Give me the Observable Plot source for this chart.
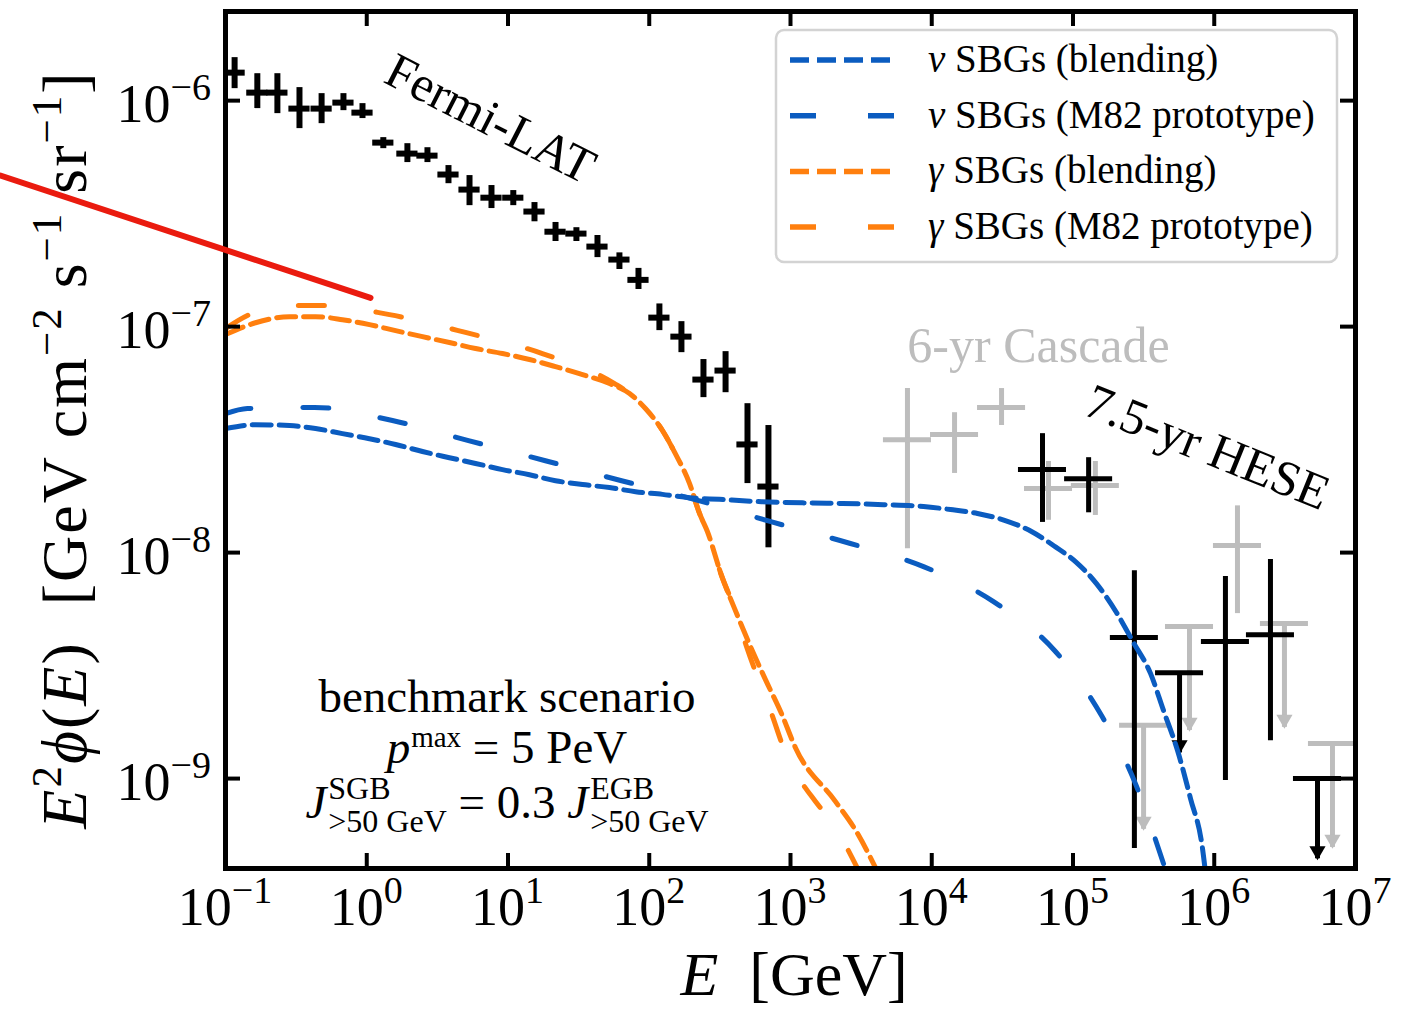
<!DOCTYPE html>
<html>
<head>
<meta charset="utf-8">
<script src="https://cdn.jsdelivr.net/npm/d3@7"></script>
<script src="https://cdn.jsdelivr.net/npm/@observablehq/plot@0.6"></script>
<style>
html,body{margin:0;padding:0;background:#fff;}
#chart svg{display:block;}
</style>
</head>
<body>
<div id="chart"></div>
<script>
// ---------------- data ----------------
const xTickExponents = [-1, 0, 1, 2, 3, 4, 5, 6, 7];
const yTickExponents = [-9, -8, -7, -6];

// Fermi-LAT EGB (black crosses)
const fermiE  = [0.116,0.168,0.233,0.334,0.479,0.684,0.933,1.31,1.94,2.69,3.79,5.34,7.64,10.9,15.4,21.7,30.5,43.0,61.5,83.9,118,169,242,347,496,698];
const fermiY  = [1.33e-6,1.085e-6,1.085e-6,9.22e-7,9.22e-7,9.80e-7,8.85e-7,6.52e-7,5.83e-7,5.71e-7,4.71e-7,4.04e-7,3.72e-7,3.72e-7,3.23e-7,2.63e-7,2.58e-7,2.26e-7,1.98e-7,1.61e-7,1.096e-7,9.03e-8,5.83e-8,6.39e-8,3.01e-8,1.96e-8];
const fermiHi = [1.55e-6,1.316e-6,1.316e-6,1.142e-6,1.074e-6,1.074e-6,9.70e-7,6.86e-7,6.45e-7,6.19e-7,5.16e-7,4.66e-7,4.21e-7,4.00e-7,3.54e-7,2.89e-7,2.74e-7,2.53e-7,2.12e-7,1.81e-7,1.26e-7,1.052e-7,7.15e-8,7.75e-8,4.56e-8,3.65e-8];
const fermiLo = [1.13e-6,9.22e-7,8.76e-7,7.52e-7,7.91e-7,9.03e-7,8.33e-7,6.13e-7,5.32e-7,5.32e-7,4.29e-7,3.43e-7,3.33e-7,3.43e-7,2.91e-7,2.38e-7,2.38e-7,2.02e-7,1.79e-7,1.46e-7,9.60e-8,7.67e-8,4.85e-8,5.10e-8,2.02e-8,1.05e-8];
const fermiHalfBinDex = 0.075;

// IceCube 6-yr cascade (grey)
const cascE  = [6730,14500,31200,67100,144000,1.46e6];
const cascY  = [3.16e-8,3.33e-8,4.39e-8,1.92e-8,1.98e-8,1.074e-8];
const cascHi = [5.32e-8,4.16e-8,5.32e-8,2.53e-8,2.53e-8,1.61e-8];
const cascLo = [1.04e-8,2.24e-8,3.65e-8,1.39e-8,1.46e-8,5.37e-9];
const cascUlE = [3.16e5,6.68e5,3.14e6,6.87e6];
const cascUlY = [1.72e-9,4.71e-9,4.86e-9,1.43e-9];

// IceCube 7.5-yr HESE (black)
const heseE  = [60800,129000,272000,1.20e6,2.50e6];
const heseY  = [2.33e-8,2.12e-8,4.21e-9,4.04e-9,4.33e-9];
const heseHi = [3.36e-8,2.63e-8,8.32e-9,7.83e-9,9.31e-9];
const heseLo = [1.36e-8,1.50e-8,4.90e-10,9.80e-10,1.47e-9];
const heseUlE = [5.68e5,5.38e6];
const heseUlY = [2.94e-9,1.00e-9];
const iceHalfBinDex = 0.17;

// model curves
const nuBlendE = [0.1,0.163,0.284,0.434,0.673,1.046,1.60,2.48,3.85,5.89,9.14,14.2,21.7,33.7,52.3,80.0,124,193,314,624,1217,2334,4552,8743,13580,21080,32750,50820,75140,104100,146600,203100,268000,353800,437400,549600,679200,826000,867000];
const nuBlendY = [3.54e-8,3.68e-8,3.65e-8,3.54e-8,3.36e-8,3.19e-8,3.01e-8,2.80e-8,2.63e-8,2.48e-8,2.33e-8,2.21e-8,2.08e-8,2.00e-8,1.94e-8,1.86e-8,1.81e-8,1.75e-8,1.72e-8,1.68e-8,1.66e-8,1.65e-8,1.63e-8,1.60e-8,1.55e-8,1.49e-8,1.39e-8,1.24e-8,1.06e-8,9.13e-9,7.29e-9,5.43e-9,4.00e-9,2.92e-9,2.00e-9,1.33e-9,8.16e-10,4.90e-10,3.84e-10];

const nuM82E = [0.1,0.143,0.427,1.52,5.25,18.4,63.7,231,759,2618,8743,27370,75140,159200,281800,430500,459000];
const nuM82Y = [4.12e-8,4.34e-8,4.39e-8,3.84e-8,3.13e-8,2.55e-8,2.08e-8,1.69e-8,1.36e-8,1.10e-8,8.67e-9,6.07e-9,3.65e-9,1.90e-9,9.23e-10,4.33e-10,3.84e-10];

const gamBlendE = [0.1,0.163,0.284,0.434,0.673,1.046,1.60,2.48,3.85,5.89,9.14,14.2,21.7,33.7,52.3,72.5,94.0,124,153,193,227,258,325,402,521,665,863,1084,2084,2932,4064];
const gamBlendY = [9.23e-8,1.04e-7,1.107e-7,1.107e-7,1.073e-7,1.020e-7,9.60e-8,9.03e-8,8.50e-8,8.00e-8,7.60e-8,7.15e-8,6.65e-8,6.13e-8,5.60e-8,5.06e-8,4.34e-8,3.47e-8,2.74e-8,2.02e-8,1.49e-8,1.24e-8,7.91e-9,5.65e-9,3.84e-9,2.74e-9,1.94e-9,1.37e-9,7.91e-10,5.82e-10,3.95e-10];

const gamM82E = [0.1,0.143,0.288,0.502,1.45,5.08,17.5,56.8,72.5,94.0,124,153,193,227,258,325,402,488,593,734,892,1503,1888,3083];
const gamM82Y = [9.80e-8,1.12e-7,1.24e-7,1.24e-7,1.13e-7,9.40e-8,7.60e-8,5.60e-8,5.06e-8,4.34e-8,3.47e-8,2.74e-8,2.02e-8,1.49e-8,1.24e-8,7.91e-9,5.65e-9,3.84e-9,2.74e-9,1.94e-9,1.37e-9,7.91e-10,6.65e-10,3.84e-10];

// red hand-drawn stroke
const redE = [0.00255, 1.063];
const redY = [4.66e-7, 1.34e-7];

const legendLabels = [
  ["ν", " SBGs (blending)"],
  ["ν", " SBGs (M82 prototype)"],
  ["γ", " SBGs (blending)"],
  ["γ", " SBGs (M82 prototype)"]
];

// ---------------- chart ----------------
const W = 1405, H = 1009;
const M = {top: 11, right: 50, bottom: 141, left: 225};
const frameW = W - M.left - M.right, frameH = H - M.top - M.bottom;
const SERIF = "'Liberation Serif', 'DejaVu Serif', serif";
const BLUE = "#0b5cc0", ORANGE = "#ff7f0e", GREY = "#bdbdbd", RED = "#ea1b0f";
const SHORT = "19,8", LONG = "26,52";
const TICK = 15;
const arrowGrey = 10 ** 0.46, arrowBlack = 10 ** 0.355;

const pts = (E, Y, lo, hi) => E.map((e, i) => ({E: e, v: Y[i], lo: lo ? lo[i] : null, hi: hi ? hi[i] : null}));
const fermi = pts(fermiE, fermiY, fermiLo, fermiHi);
const casc = pts(cascE, cascY, cascLo, cascHi);
const cascUL = pts(cascUlE, cascUlY);
const hese = pts(heseE, heseY, heseLo, heseHi);
const heseUL = pts(heseUlE, heseUlY);
const bF = 10 ** fermiHalfBinDex, bI = 10 ** iceHalfBinDex;

const xTicks = xTickExponents.map(e => 10 ** e);
const yTicks = yTickExponents.map(e => 10 ** e);

const curve = (E, Y, stroke, dash) => Plot.line(pts(E, Y), {x: "E", y: "v", stroke, strokeWidth: 5, strokeDasharray: dash, curve: "monotone-x", clip: true});

const errorMarks = (data, ul, color, sw, arrowF) => [
  Plot.ruleX(data, {x: "E", y1: "lo", y2: "hi", stroke: color, strokeWidth: sw, clip: true}),
  Plot.ruleY(data, {y: "v", x1: d => d.E / bI, x2: d => d.E * bI, stroke: color, strokeWidth: sw, clip: true}),
  Plot.ruleY(ul, {y: "v", x1: d => d.E / bI, x2: d => d.E * bI, stroke: color, strokeWidth: sw, clip: true}),
  Plot.ruleX(ul, {x: "E", y1: "v", y2: d => d.v / arrowF, stroke: color, strokeWidth: sw, clip: true}),
  Plot.dot(ul, {x: "E", y: d => d.v / arrowF, symbol: "triangle", rotate: 180, r: 6, dy: -8, fill: color, stroke: null})
];

const plot = Plot.plot({
  width: W, height: H,
  marginTop: M.top, marginRight: M.right, marginBottom: M.bottom, marginLeft: M.left,
  x: {type: "log", domain: [1e-1, 1e7], axis: null},
  y: {type: "log", domain: [4.0e-10, 2.48e-6], axis: null},
  style: {fontFamily: SERIF, background: "white", overflow: "visible"},
  marks: [
    // grey cascade
    ...errorMarks(casc, cascUL, GREY, 5, arrowGrey),
    // black HESE
    ...errorMarks(hese, heseUL, "black", 5, arrowBlack),
    // Fermi
    Plot.ruleX(fermi, {x: "E", y1: "lo", y2: "hi", stroke: "black", strokeWidth: 6, clip: true}),
    Plot.ruleY(fermi, {y: "v", x1: d => d.E / bF, x2: d => d.E * bF, stroke: "black", strokeWidth: 6, clip: true}),
    // models
    curve(gamBlendE, gamBlendY, ORANGE, SHORT),
    curve(gamM82E, gamM82Y, ORANGE, LONG),
    curve(nuBlendE, nuBlendY, BLUE, SHORT),
    curve(nuM82E, nuM82Y, BLUE, LONG),
    // annotations
    Plot.text(["Fermi-LAT"], {x: () => 7.5, y: () => 8.3e-7, text: d => d, rotate: 27, fontSize: 50, fill: "black", textAnchor: "middle", lineAnchor: "middle"}),
    Plot.text(["6-yr Cascade"], {x: () => 57000, y: () => 8.24e-8, text: d => d, fontSize: 50, fill: GREY, textAnchor: "middle", lineAnchor: "middle"}),
    Plot.text(["7.5-yr HESE"], {x: () => 8.95e5, y: () => 2.92e-8, text: d => d, rotate: 22, fontSize: 50, fill: "black", textAnchor: "middle", lineAnchor: "middle"}),
    // ticks (inward, all four sides)
    Plot.ruleX(xTicks, {x: d => d, insetTop: frameH - TICK, stroke: "black", strokeWidth: 4}),
    Plot.ruleX(xTicks, {x: d => d, insetBottom: frameH - TICK, stroke: "black", strokeWidth: 4}),
    Plot.ruleY(yTicks, {y: d => d, insetRight: frameW - TICK, stroke: "black", strokeWidth: 4}),
    Plot.ruleY(yTicks, {y: d => d, insetLeft: frameW - TICK, stroke: "black", strokeWidth: 4}),
    Plot.frame({stroke: "black", strokeWidth: 5}),
    // red stroke on top
    Plot.line(pts(redE, redY), {x: "E", y: "v", stroke: RED, strokeWidth: 6, clip: false})
  ]
});
document.getElementById("chart").appendChild(plot);

// ---------------- text overlays (tick labels, axis titles, legend) ----------------
const svg = d3.select(plot);
const sx = plot.scale("x"), sy = plot.scale("y");
const g = svg.append("g").attr("font-family", SERIF).attr("fill", "black").attr("text-anchor", "start");
const minus = n => (n < 0 ? "\u2212" + (-n) : String(n));
const frameBottom = H - M.bottom, frameRight = W - M.right;

xTickExponents.forEach(e => {
  const t = g.append("text").attr("x", sx.apply(10 ** e)).attr("y", frameBottom + 57)
    .attr("text-anchor", "middle").attr("font-size", 54);
  t.append("tspan").text("10");
  t.append("tspan").attr("dy", -22).attr("font-size", 38).text(minus(e));
});
yTickExponents.forEach(e => {
  const t = g.append("text").attr("x", M.left - 14).attr("y", sy.apply(10 ** e) + 22)
    .attr("text-anchor", "end").attr("font-size", 54);
  t.append("tspan").text("10");
  t.append("tspan").attr("dy", -22).attr("font-size", 38).text(minus(e));
});

// x title
{
  const t = g.append("text").attr("x", M.left + frameW / 2 + 4).attr("y", H - 14)
    .attr("text-anchor", "middle").attr("font-size", 62).style("white-space", "pre");
  t.append("tspan").attr("font-style", "italic").text("E");
  t.append("tspan").text("  [GeV]");
}
// y title
{
  const t = g.append("text").attr("transform", `translate(86,${M.top + frameH / 2 + 10}) rotate(-90)`)
    .attr("text-anchor", "middle").attr("font-size", 64).attr("letter-spacing", 2).style("white-space", "pre");
  t.append("tspan").attr("font-style", "italic").text("E");
  t.append("tspan").attr("dy", -25).attr("font-size", 43).text("2");
  t.append("tspan").attr("dy", 25).attr("font-style", "italic").text("ϕ");
  t.append("tspan").text("(");
  t.append("tspan").attr("font-style", "italic").text("E");
  t.append("tspan").text(")  [GeV cm");
  t.append("tspan").attr("dy", -25).attr("font-size", 43).text("\u22122");
  t.append("tspan").attr("dy", 25).text(" s");
  t.append("tspan").attr("dy", -25).attr("font-size", 43).text("\u22121");
  t.append("tspan").attr("dy", 25).text(" sr");
  t.append("tspan").attr("dy", -25).attr("font-size", 43).text("\u22121");
  t.append("tspan").attr("dy", 25).text("]");
}

// benchmark block
function mathLine(cx, y, parts) {
  const grp = g.append("g").attr("text-anchor", "start");
  let x = 0;
  for (const p of parts) {
    if (p.stack) {
      const a = grp.append("text").attr("x", x).attr("y", -19).attr("font-size", 32).text(p.sup);
      const b = grp.append("text").attr("x", x).attr("y", 14).attr("font-size", 32).style("white-space", "pre").text(p.sub);
      x += Math.max(a.node().getComputedTextLength(), b.node().getComputedTextLength());
    } else {
      const t = grp.append("text").attr("x", x).attr("y", p.dy || 0).attr("font-size", p.size || 47)
        .attr("font-style", p.italic ? "italic" : null).style("white-space", "pre").text(p.t);
      x += t.node().getComputedTextLength() + (p.after || 0);
    }
  }
  grp.attr("transform", `translate(${cx - x / 2},${y})`);
}
const bcx = M.left + 282;
mathLine(bcx, 712, [{t: "benchmark scenario"}]);
mathLine(bcx, 763, [{t: "p", italic: true, after: 1}, {t: "max", size: 29, dy: -16}, {t: " = 5 PeV"}]);
mathLine(bcx, 818, [
  {t: "J", italic: true, after: 2}, {stack: true, sup: "SGB", sub: ">50 GeV"},
  {t: " = 0.3 "}, {t: "J", italic: true, after: 2}, {stack: true, sup: "EGB", sub: ">50 GeV"}
]);

// legend
{
  const lx = frameRight - 579, ly = M.top + 19, lw = 561, lh = 232;
  const lg = g.append("g").attr("text-anchor", "start");
  lg.append("rect").attr("x", lx).attr("y", ly).attr("width", lw).attr("height", lh).attr("rx", 8)
    .attr("fill", "white").attr("fill-opacity", 0.85).attr("stroke", "#d3d3d3").attr("stroke-width", 2.5);
  const styles = [[BLUE, SHORT], [BLUE, LONG], [ORANGE, SHORT], [ORANGE, LONG]];
  legendLabels.forEach((lab, i) => {
    const y = ly + 30 + i * 55.7;
    lg.append("line").attr("x1", lx + 14).attr("x2", lx + 120).attr("y1", y).attr("y2", y)
      .attr("stroke", styles[i][0]).attr("stroke-width", 5.5).attr("stroke-dasharray", styles[i][1]);
    const t = lg.append("text").attr("x", lx + 152).attr("y", y + 12).attr("font-size", 39).style("white-space", "pre");
    t.append("tspan").attr("font-style", "italic").text(lab[0]);
    t.append("tspan").text(lab[1]);
  });
}
</script>
</body>
</html>
